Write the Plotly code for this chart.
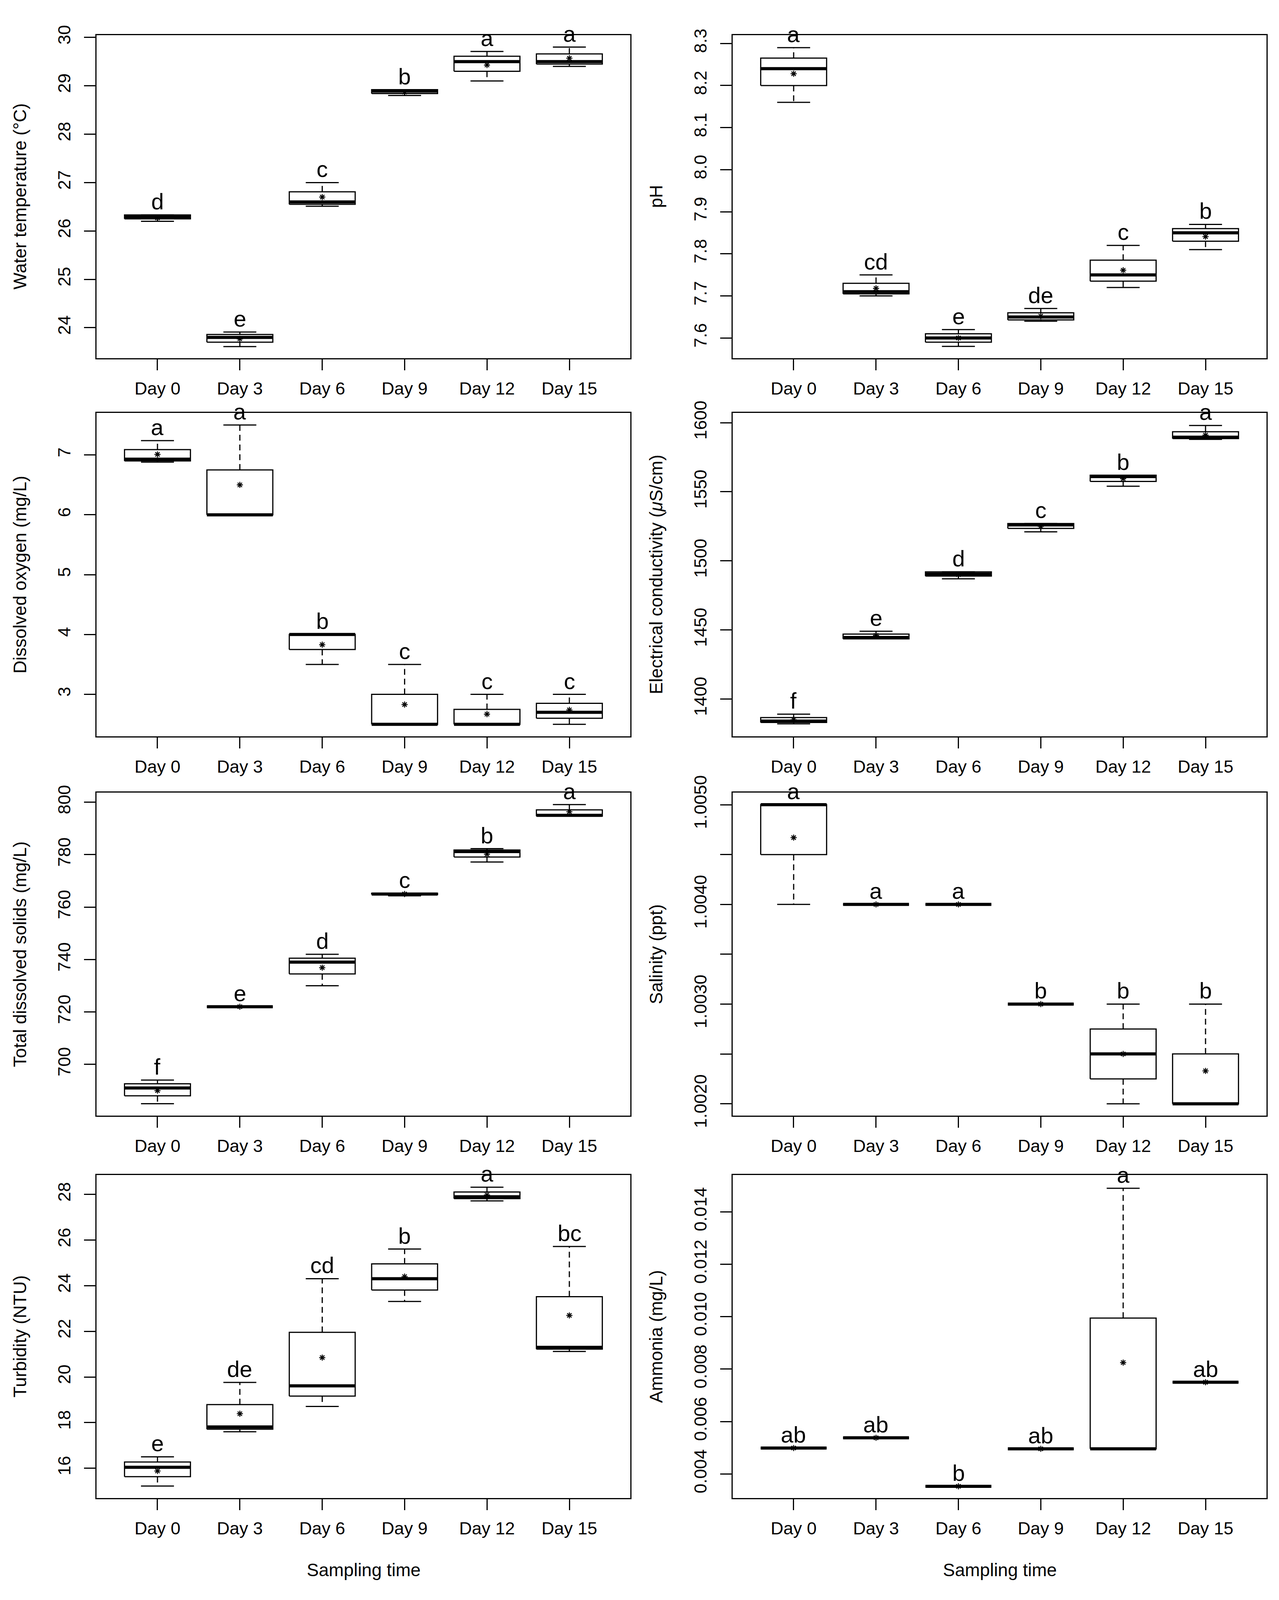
import plotly.graph_objects as go

days = ["Day 0", "Day 3", "Day 6", "Day 9", "Day 12", "Day 15"]

# Water temperature (°C)
temp_low = [26.20, 23.61, 26.51, 28.80, 29.10, 29.40]
temp_q1 = [26.25, 23.70, 26.55, 28.84, 29.30, 29.45]
temp_med = [26.29, 23.80, 26.60, 28.89, 29.50, 29.50]
temp_q3 = [26.33, 23.86, 26.81, 28.92, 29.61, 29.66]
temp_high = [26.33, 23.91, 27.00, 28.92, 29.71, 29.80]
temp_mean = [26.27, 23.77, 26.70, 28.87, 29.43, 29.57]
temp_letters = ["d", "e", "c", "b", "a", "a"]

# pH
ph_low = [8.16, 7.70, 7.58, 7.64, 7.72, 7.81]
ph_q1 = [8.20, 7.705, 7.59, 7.643, 7.735, 7.83]
ph_med = [8.24, 7.71, 7.60, 7.65, 7.75, 7.85]
ph_q3 = [8.265, 7.73, 7.61, 7.66, 7.785, 7.86]
ph_high = [8.29, 7.75, 7.62, 7.67, 7.82, 7.87]
ph_mean = [8.228, 7.718, 7.60, 7.652, 7.761, 7.841]
ph_letters = ["a", "cd", "e", "de", "c", "b"]

# Dissolved oxygen (mg/L)
do_low = [6.88, 6.0, 3.5, 2.5, 2.5, 2.5]
do_q1 = [6.90, 6.0, 3.75, 2.5, 2.5, 2.6]
do_med = [6.93, 6.0, 4.0, 2.5, 2.5, 2.7]
do_q3 = [7.09, 6.75, 4.0, 3.0, 2.75, 2.85]
do_high = [7.24, 7.5, 4.0, 3.5, 3.0, 3.0]
do_mean = [7.01, 6.50, 3.83, 2.83, 2.67, 2.74]
do_letters = ["a", "a", "b", "c", "c", "c"]

# Electrical conductivity (µS/cm)
ec_low = [1382, 1443.5, 1487, 1521, 1554, 1588]
ec_q1 = [1383, 1443.5, 1489, 1523.5, 1557.5, 1588.5]
ec_med = [1384, 1444.5, 1490.5, 1526, 1561, 1589.5]
ec_q3 = [1386.5, 1447, 1492, 1527, 1562, 1593.5]
ec_high = [1389, 1449, 1492, 1527, 1562, 1598]
ec_mean = [1385, 1446, 1490, 1525, 1559.5, 1591]
ec_letters = ["f", "e", "d", "c", "b", "a"]

# Total dissolved solids (mg/L)
tds_low = [685, 722, 730, 764.3, 777.2, 794.7]
tds_q1 = [688, 722, 734.5, 764.8, 779.1, 794.7]
tds_med = [691, 722, 739, 765, 781.2, 795]
tds_q3 = [692.6, 722, 740.5, 765.3, 781.8, 797.1]
tds_high = [694, 722, 742, 765.3, 782.3, 799.1]
tds_mean = [690, 722, 736.9, 765, 780.2, 796.4]
tds_letters = ["f", "e", "d", "c", "b", "a"]

# Salinity (ppt)
sal_low = [1.0040, 1.0040, 1.0040, 1.0030, 1.0020, 1.0020]
sal_q1 = [1.0045, 1.0040, 1.0040, 1.0030, 1.00225, 1.0020]
sal_med = [1.0050, 1.0040, 1.0040, 1.0030, 1.0025, 1.0020]
sal_q3 = [1.0050, 1.0040, 1.0040, 1.0030, 1.00275, 1.0025]
sal_high = [1.0050, 1.0040, 1.0040, 1.0030, 1.0030, 1.0030]
sal_mean = [1.00467, 1.0040, 1.0040, 1.0030, 1.0025, 1.00233]
sal_letters = ["a", "a", "a", "b", "b", "b"]

# Turbidity (NTU)
turb_low = [15.22, 17.60, 18.71, 23.31, 27.72, 21.12]
turb_q1 = [15.63, 17.71, 19.16, 23.81, 27.82, 21.22]
turb_med = [16.04, 17.81, 19.61, 24.31, 27.90, 21.30]
turb_q3 = [16.27, 18.79, 21.96, 24.96, 28.11, 23.52]
turb_high = [16.50, 19.76, 24.31, 25.61, 28.32, 25.72]
turb_mean = [15.88, 18.39, 20.85, 24.40, 27.98, 22.70]
turb_letters = ["e", "de", "cd", "b", "a", "bc"]

# Ammonia (mg/L)
amm_low = [0.00499, 0.00538, 0.00353, 0.00496, 0.00496, 0.0075]
amm_q1 = [0.00499, 0.00538, 0.00353, 0.00496, 0.00496, 0.0075]
amm_med = [0.00499, 0.00538, 0.00353, 0.00496, 0.00496, 0.0075]
amm_q3 = [0.00499, 0.00538, 0.00353, 0.00496, 0.00995, 0.0075]
amm_high = [0.00499, 0.00538, 0.00353, 0.00496, 0.0149, 0.0075]
amm_mean = [0.00499, 0.00538, 0.00353, 0.00496, 0.00825, 0.0075]
amm_letters = ["ab", "ab", "b", "ab", "a", "ab"]

FONT = "Liberation Sans, Arial, Helvetica, sans-serif"
W, H = 3273, 4096          # the page shows 4096 px of height, so the figure is fit into that
REF_W, REF_H = 3273, 4408  # layout below is measured on the 3273x4408 original

# panel boxes in original pixels: (left, right) per column, (top, bottom) per row
cols = [(247, 1613), (1875, 3241)]
rows = [(50, 957), (1111, 2018), (2176, 3083), (3249, 4156)]

panels = [
    ("Water temperature (°C)", temp_low, temp_q1, temp_med, temp_q3, temp_high, temp_mean, temp_letters,
     [23.37, 30.05], [24, 25, 26, 27, 28, 29, 30], None),
    ("pH", ph_low, ph_q1, ph_med, ph_q3, ph_high, ph_mean, ph_letters,
     [7.552, 8.320], [7.6, 7.7, 7.8, 7.9, 8.0, 8.1, 8.2, 8.3], ["7.6", "7.7", "7.8", "7.9", "8.0", "8.1", "8.2", "8.3"]),
    ("Dissolved oxygen (mg/L)", do_low, do_q1, do_med, do_q3, do_high, do_mean, do_letters,
     [2.30, 7.70], [3, 4, 5, 6, 7], None),
    ("Electrical conductivity (<i>\u03bc</i>S/cm)", ec_low, ec_q1, ec_med, ec_q3, ec_high, ec_mean, ec_letters,
     [1373, 1607], [1400, 1450, 1500, 1550, 1600], None),
    ("Total dissolved solids (mg/L)", tds_low, tds_q1, tds_med, tds_q3, tds_high, tds_mean, tds_letters,
     [680.4, 803.7], [700, 720, 740, 760, 780, 800], None),
    ("Salinity (ppt)", sal_low, sal_q1, sal_med, sal_q3, sal_high, sal_mean, sal_letters,
     [1.00188, 1.005122], [1.002, 1.0025, 1.003, 1.0035, 1.004, 1.0045, 1.005],
     ["1.0020", "", "1.0030", "", "1.0040", "", "1.0050"]),
    ("Turbidity (NTU)", turb_low, turb_q1, turb_med, turb_q3, turb_high, turb_mean, turb_letters,
     [14.69, 28.86], [16, 18, 20, 22, 24, 26, 28], None),
    ("Ammonia (mg/L)", amm_low, amm_q1, amm_med, amm_q3, amm_high, amm_mean, amm_letters,
     [0.00308, 0.01541], [0.004, 0.006, 0.008, 0.010, 0.012, 0.014],
     ["0.004", "0.006", "0.008", "0.010", "0.012", "0.014"]),
]

xs = list(range(1, len(days) + 1))
bw = 0.4   # half box width
cw = 0.2   # half staple width

fig = go.Figure()
annotations = []

for k, (title, lo, q1, med, q3, hi, mean, letters, yr, tv, tt) in enumerate(panels):
    n = k + 1
    xa, ya = ("x" if n == 1 else "x%d" % n), ("y" if n == 1 else "y%d" % n)
    col, row = cols[k % 2], rows[k // 2]

    wx, wy, cx, cy, bx, by, mx, my = [], [], [], [], [], [], [], []
    for i, x in enumerate(xs):
        wx += [x, x, None, x, x, None]
        wy += [q3[i], hi[i], None, q1[i], lo[i], None]
        cx += [x - cw, x + cw, None, x - cw, x + cw, None]
        cy += [hi[i], hi[i], None, lo[i], lo[i], None]
        bx += [x - bw, x + bw, x + bw, x - bw, x - bw, None]
        by += [q1[i], q1[i], q3[i], q3[i], q1[i], None]
        mx += [x - bw, x + bw, None]
        my += [med[i], med[i], None]

    fig.add_trace(go.Scatter(x=wx, y=wy, mode="lines", xaxis=xa, yaxis=ya, showlegend=False,
                             line=dict(color="black", width=3, dash="15px,10px"), hoverinfo="skip"))
    fig.add_trace(go.Scatter(x=cx, y=cy, mode="lines", xaxis=xa, yaxis=ya, showlegend=False,
                             line=dict(color="black", width=3), hoverinfo="skip"))
    fig.add_trace(go.Scatter(x=bx, y=by, mode="lines", xaxis=xa, yaxis=ya, showlegend=False,
                             line=dict(color="black", width=3), hoverinfo="skip"))
    fig.add_trace(go.Scatter(x=mx, y=my, mode="lines", xaxis=xa, yaxis=ya, showlegend=False,
                             line=dict(color="black", width=8), hoverinfo="skip"))
    fig.add_trace(go.Scatter(x=xs, y=mean, mode="markers", xaxis=xa, yaxis=ya, showlegend=False,
                             marker=dict(symbol="asterisk-open", size=13, color="black",
                                         line=dict(color="black", width=2.5))))

    for i, x in enumerate(xs):
        annotations.append(dict(x=x, y=hi[i], xref=xa, yref=ya, text=letters[i], showarrow=False,
                                yanchor="bottom", yshift=1, borderpad=0,
                                font=dict(family=FONT, size=58, color="black")))

    xdom = [col[0] / REF_W, col[1] / REF_W]
    ydom = [1 - row[1] / REF_H, 1 - row[0] / REF_H]
    axis_common = dict(showline=True, mirror=True, linecolor="black", linewidth=3, showgrid=False,
                       zeroline=False, ticks="outside", tickcolor="black", tickwidth=3,
                       tickfont=dict(family=FONT, size=45, color="black"))
    fig.update_layout({
        "xaxis%d" % n: dict(domain=xdom, anchor=ya, range=[0.26, 6.74], tickmode="array",
                             tickvals=xs, ticktext=days, ticklen=28, ticklabelstandoff=8,
                             **axis_common),
        "yaxis%d" % n: dict(domain=ydom, anchor=xa, range=yr, tickmode="array", tickvals=tv,
                             ticktext=tt if tt else [str(v) for v in tv], tickangle=-90,
                             ticklen=29, ticklabelstandoff=17, **axis_common),
    })

    annotations.append(dict(x=(col[0] - 196) / REF_W, y=(ydom[0] + ydom[1]) / 2, xref="paper", yref="paper",
                            text=title, textangle=-90, showarrow=False, xanchor="center", yanchor="middle",
                            font=dict(family=FONT, size=46, color="black")))

for col in cols:
    annotations.append(dict(x=(col[0] + col[1]) / 2 / REF_W, y=1 - 4358 / REF_H, xref="paper", yref="paper",
                            text="Sampling time", showarrow=False, xanchor="center", yanchor="middle",
                            font=dict(family=FONT, size=46, color="black")))

fig.update_layout(width=W, height=H, margin=dict(l=0, r=0, t=0, b=0),
                  paper_bgcolor="white", plot_bgcolor="white",
                  annotations=annotations, font=dict(family=FONT, color="black"))

# drop the default page margin so the figure sits flush in the window
fig.write_html("out.html", config={"displayModeBar": False},
               post_script="document.body.style.margin = '0';")
